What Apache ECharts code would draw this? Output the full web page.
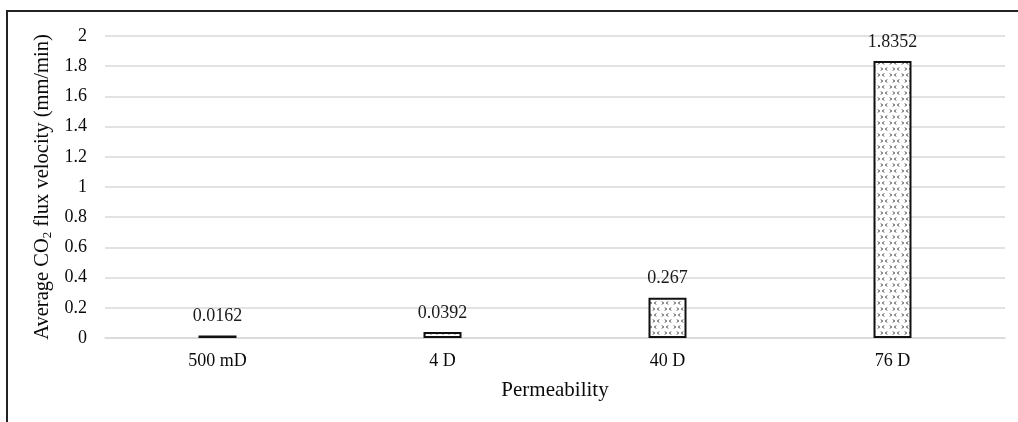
<!DOCTYPE html>
<html><head><meta charset="utf-8">
<script src="https://cdn.jsdelivr.net/npm/echarts@6/dist/echarts.min.js"></script>
<style>html,body{margin:0;padding:0;background:#fff}#c{width:1018px;height:422px}</style>
</head><body><div id="c"></div>
<script>
const categories = ['500 mD', '4 D', '40 D', '76 D'];
const values = [0.0162, 0.0392, 0.267, 1.8352];
const valueLabels = ['0.0162', '0.0392', '0.267', '1.8352'];
const yTicks = [0, 0.2, 0.4, 0.6, 0.8, 1, 1.2, 1.4, 1.6, 1.8, 2];

function makePattern() {
  const c = document.createElement('canvas');
  c.width = 12; c.height = 12;
  const g = c.getContext('2d');
  g.fillStyle = '#fff'; g.fillRect(0, 0, 12, 12);
  g.strokeStyle = '#222'; g.lineWidth = 1;
  function chev(x, y, dir) {
    g.beginPath();
    g.moveTo(x, y - 1.5); g.lineTo(x + 1.5 * dir, y); g.lineTo(x, y + 1.5);
    g.stroke();
  }
  chev(2, 3, 1); chev(8, 3, -1); chev(5, 9, 1); chev(11, 9, -1);
  return c;
}

const chart = echarts.init(document.getElementById('c'));
const font = '"Liberation Serif", "Times New Roman", serif';
chart.setOption({
  animation: false,
  textStyle: { fontFamily: font },
  graphic: [
    { type: 'line', shape: { x1: 6, y1: 11, x2: 1018, y2: 11 }, style: { stroke: '#222', lineWidth: 2 } },
    { type: 'line', shape: { x1: 7, y1: 10, x2: 7, y2: 422 }, style: { stroke: '#222', lineWidth: 2 } }
  ],
  grid: { left: 105, right: 13, top: 36, bottom: 84 },
  xAxis: {
    type: 'category', data: categories,
    axisLine: { lineStyle: { color: '#d9d9d9', width: 1.5 } },
    axisTick: { show: false },
    axisLabel: { color: '#0a0a0a', fontSize: 18, fontFamily: font, margin: 14 },
    name: 'Permeability', nameLocation: 'middle', nameGap: 42,
    nameTextStyle: { color: '#0a0a0a', fontSize: 21, fontFamily: font }
  },
  yAxis: {
    type: 'value', min: 0, max: 2, interval: 0.2,
    axisLine: { show: false }, axisTick: { show: false },
    splitLine: { lineStyle: { color: '#d9d9d9', width: 1.5 } },
    axisLabel: { color: '#0a0a0a', fontSize: 18, fontFamily: font, margin: 18,
      formatter: v => { const t = yTicks.find(x => Math.abs(x - v) < 1e-9); return t === undefined ? '' : String(t); } },
    name: 'Average CO{sub|2} flux velocity (mm/min)', nameLocation: 'middle', nameGap: 48,
    nameTextStyle: { color: '#0a0a0a', fontSize: 20.5, fontFamily: font,
      rich: { sub: { fontSize: 13, verticalAlign: 'bottom', padding: [8, 0, 0, 0], fontFamily: font, color: '#0a0a0a' } } }
  },
  series: [{
    type: 'bar', data: values, barWidth: 38,
    itemStyle: { color: { image: makePattern(), repeat: 'repeat' }, borderColor: '#111', borderWidth: 2 },
    label: { show: true, position: 'top', distance: 10, color: '#1a1a1a', fontSize: 18, fontFamily: font,
      formatter: p => valueLabels[p.dataIndex] }
  }]
});
</script></body></html>
